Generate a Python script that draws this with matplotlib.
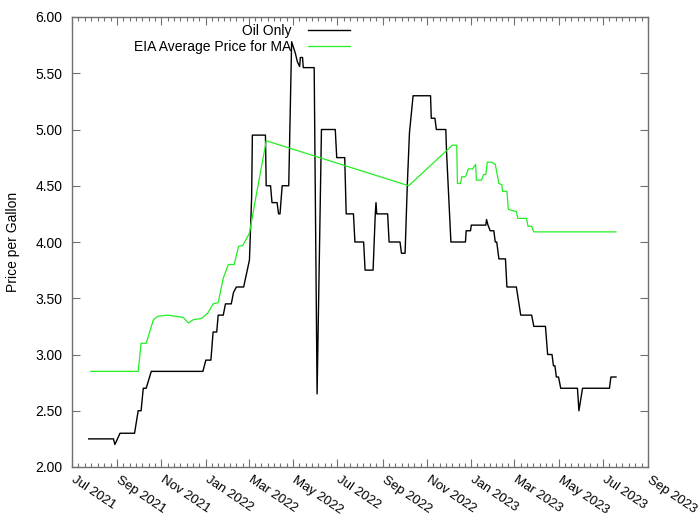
import numpy as np
import pandas as pd
import matplotlib
matplotlib.use("Agg")
import matplotlib.pyplot as plt
import matplotlib.dates as mdates
import matplotlib.transforms as mtransforms
from matplotlib.ticker import FixedLocator, FormatStrFormatter

plt.rcParams['font.family'] = ['Liberation Sans', 'DejaVu Sans']

# Oil Only price
oil_dates = [
    "2021-07-24", "2021-08-27", "2021-08-29", "2021-09-05", "2021-09-25", "2021-09-30",
    "2021-10-04", "2021-10-07", "2021-10-11", "2021-10-18", "2021-12-28", "2022-01-01",
    "2022-01-08", "2022-01-11", "2022-01-16", "2022-01-18", "2022-01-25", "2022-01-28",
    "2022-02-05", "2022-02-08", "2022-02-12", "2022-02-15", "2022-02-22", "2022-02-27",
    "2022-03-02", "2022-03-05", "2022-03-06", "2022-03-24", "2022-03-25", "2022-03-31",
    "2022-04-02", "2022-04-09", "2022-04-11", "2022-04-13", "2022-04-16", "2022-04-25",
    "2022-04-29", "2022-05-04", "2022-05-07", "2022-05-10", "2022-05-11", "2022-05-14",
    "2022-05-15", "2022-05-30", "2022-06-03", "2022-06-09", "2022-06-28", "2022-06-30",
    "2022-07-11", "2022-07-13", "2022-07-23", "2022-07-25", "2022-08-06", "2022-08-08",
    "2022-08-19", "2022-08-22", "2022-08-23", "2022-08-24", "2022-09-08", "2022-09-10",
    "2022-09-25", "2022-09-27", "2022-10-02", "2022-10-05", "2022-10-08", "2022-10-13",
    "2022-11-06", "2022-11-07", "2022-11-12", "2022-11-14", "2022-11-27", "2022-11-28",
    "2022-12-04", "2022-12-24", "2022-12-25", "2022-12-31", "2023-01-01", "2023-01-21",
    "2023-01-22", "2023-01-24", "2023-01-27", "2023-02-01", "2023-02-03", "2023-02-05",
    "2023-02-08", "2023-02-17", "2023-02-19", "2023-03-04", "2023-03-10", "2023-03-25",
    "2023-03-28", "2023-04-13", "2023-04-16", "2023-04-22", "2023-04-24", "2023-04-26",
    "2023-04-28", "2023-05-01", "2023-05-04", "2023-05-27", "2023-05-29", "2023-06-03",
    "2023-07-10", "2023-07-12", "2023-07-19",
]
oil_prices = [
    2.25, 2.25, 2.20, 2.30, 2.30, 2.50,
    2.50, 2.70, 2.70, 2.85, 2.85, 2.95,
    2.95, 3.20, 3.20, 3.35, 3.35, 3.45,
    3.45, 3.55, 3.60, 3.60, 3.60, 3.75,
    3.84, 4.40, 4.95, 4.95, 4.50, 4.50,
    4.35, 4.35, 4.25, 4.25, 4.50, 4.50,
    5.78, 5.68, 5.60, 5.56, 5.64, 5.64,
    5.55, 5.55, 2.65, 5.00, 5.00, 4.75,
    4.75, 4.25, 4.25, 4.00, 4.00, 3.75,
    3.75, 4.25, 4.35, 4.25, 4.25, 4.00,
    4.00, 3.90, 3.90, 4.50, 4.97, 5.30,
    5.30, 5.10, 5.10, 5.00, 5.00, 4.80,
    4.00, 4.00, 4.10, 4.10, 4.15, 4.15,
    4.20, 4.15, 4.10, 4.10, 4.00, 4.00,
    3.85, 3.85, 3.60, 3.60, 3.35, 3.35,
    3.25, 3.25, 3.00, 3.00, 2.90, 2.90,
    2.80, 2.80, 2.70, 2.70, 2.50, 2.70,
    2.70, 2.80, 2.80,
]

# EIA Average Price for MA
eia_dates = [
    "2021-07-27", "2021-09-30", "2021-10-04", "2021-10-11", "2021-10-21", "2021-10-27",
    "2021-11-10", "2021-12-01", "2021-12-08", "2021-12-15", "2021-12-26", "2022-01-04",
    "2022-01-11", "2022-01-18", "2022-01-25", "2022-02-01", "2022-02-09", "2022-02-15",
    "2022-02-21", "2022-03-02", "2022-03-10", "2022-03-24", "2022-03-25", "2022-10-07",
    "2022-12-06", "2022-12-12", "2022-12-13", "2022-12-17", "2022-12-19", "2022-12-24",
    "2022-12-28", "2023-01-03", "2023-01-07", "2023-01-08", "2023-01-15", "2023-01-18",
    "2023-01-21", "2023-01-23", "2023-01-29", "2023-02-03", "2023-02-08", "2023-02-12",
    "2023-02-13", "2023-02-19", "2023-02-21", "2023-02-26", "2023-03-04", "2023-03-06",
    "2023-03-18", "2023-03-20", "2023-03-25", "2023-03-28", "2023-07-19",
]
eia_prices = [
    2.85, 2.85, 3.10, 3.10, 3.31, 3.34,
    3.35, 3.33, 3.28, 3.31, 3.32, 3.37,
    3.45, 3.46, 3.68, 3.80, 3.80, 3.96,
    3.97, 4.08, 4.37, 4.86, 4.90, 4.50,
    4.86, 4.86, 4.52, 4.52, 4.58, 4.58,
    4.65, 4.65, 4.69, 4.55, 4.55, 4.60,
    4.60, 4.71, 4.71, 4.69, 4.52, 4.51,
    4.45, 4.45, 4.29, 4.28, 4.27, 4.21,
    4.21, 4.14, 4.14, 4.09, 4.09,
]

tick_months = pd.date_range("2021-07-01", "2023-09-01", freq="2MS")
frame_col = "#707070"

fig = plt.figure(figsize=(7, 5.25), dpi=100)
ax = fig.add_axes([72 / 700, 1 - 467 / 525, (648 - 72) / 700, (467 - 17) / 525])

ax.plot(pd.to_datetime(oil_dates), oil_prices, color="black", lw=1.0, label="Oil Only")
ax.plot(pd.to_datetime(eia_dates), eia_prices, color="#22ee22", lw=0.9,
        label="EIA Average Price for MA")

ax.set_xlim(pd.Timestamp("2021-07-01"), pd.Timestamp("2023-09-01"))
ax.set_ylim(2.0, 6.0)

ax.xaxis.set_major_locator(FixedLocator(mdates.date2num(tick_months)))
ax.xaxis.set_major_formatter(mdates.DateFormatter("%b %Y"))
minor = []
for a, b in zip(tick_months[:-1], tick_months[1:]):
    step = (b - a) / 7
    minor += [a + step * k for k in range(1, 7)]
ax.xaxis.set_minor_locator(FixedLocator(mdates.date2num(minor)))
ax.yaxis.set_major_locator(FixedLocator(np.arange(2.0, 6.01, 0.5)))
ax.yaxis.set_major_formatter(FormatStrFormatter("%.2f"))

ax.tick_params(which="both", direction="in", top=True, right=True, color=frame_col)
ax.tick_params(which="major", length=6, width=0.8, labelsize=10, pad=7)
ax.tick_params(which="minor", length=3, width=0.8)
ax.tick_params(axis="x", which="major", pad=5, labelsize=9.5)

# shift rotated date labels a little to the right, like the original
shift = mtransforms.ScaledTranslation(4 / 100, 0, fig.dpi_scale_trans)
for lab in ax.get_xticklabels():
    lab.set_rotation(-34)
    lab.set_ha("left")
    lab.set_va("top")
    lab.set_rotation_mode("anchor")
    lab.set_transform(lab.get_transform() + shift)

for s in ax.spines.values():
    s.set_color(frame_col)
    s.set_linewidth(1.0)

ax.set_ylabel("Price per Gallon", fontsize=10)
ax.yaxis.set_label_coords(-52 / 576, 0.5)

ax.legend(loc="upper right", bbox_to_anchor=(350 / 700, 1 - 24 / 525),
          bbox_transform=fig.transFigure, frameon=False, markerfirst=False,
          fontsize=10, handlelength=3.0, handletextpad=1.2, labelspacing=0.15,
          borderpad=0, borderaxespad=0)

fig.savefig("out.png", dpi=100)
